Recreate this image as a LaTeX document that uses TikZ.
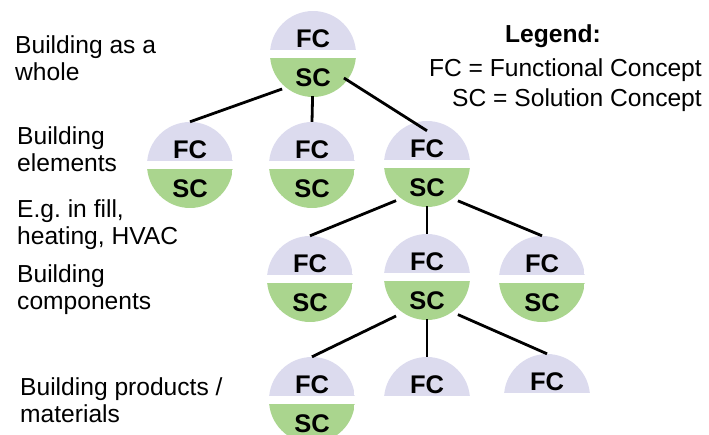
\documentclass[tikz,border=0pt]{standalone}
\usepackage{fontspec}
\setmainfont{Liberation Sans}
\usepackage{tikz}
\usetikzlibrary{calc,positioning}
\definecolor{fccol}{RGB}{220,219,238}
\definecolor{sccol}{RGB}{170,213,142}
\frenchspacing
\tikzset{
  concept/.style={circle, minimum size=86pt, inner sep=0pt, path picture={
    \fill[fccol] (path picture bounding box.north west) rectangle ([yshift=4pt]path picture bounding box.east);
    \fill[sccol] ([yshift=-4pt]path picture bounding box.west) rectangle (path picture bounding box.south east);}},
  fconly/.style={circle, minimum size=86pt, inner sep=0pt, path picture={
    \fill[fccol] (path picture bounding box.north west) rectangle ([yshift=4pt]path picture bounding box.east);}},
  lab/.style={font=\fontsize{25.5}{28}\selectfont\bfseries, inner xsep=13pt, inner ysep=9pt},
  lvl/.style={anchor=base west, align=left, inner sep=0pt, font=\fontsize{24.6}{27}\selectfont},
  legtext/.style={inner sep=0pt, font=\fontsize{24.6}{27}\selectfont},
  link/.style={line width=2.8pt}
}
\begin{document}
\begin{tikzpicture}[x=1pt,y=-1pt]
\clip (0,0) rectangle (709,435);
\foreach \n/\x/\y in {r/313/54, a1/190/165, a2/312/165, a3/427/164, b1/310/279, b2/427/277, b3/542/279, c1/312/400}{
  \node[concept] (\n) at (\x,\y) {};
  \node[lab] (\n-f) at ([yshift=15pt]\n.center) {FC};
  \node[lab] (\n-s) at ([yshift=-24pt]\n.center) {SC};
}
\foreach \n/\x/\y in {c2/427/400, c3/547/397}{
  \node[fconly] (\n) at (\x,\y) {};
  \node[lab] (\n-f) at ([yshift=15pt]\n.center) {FC};
}
\draw[link] (r-s) -- (a1.north);
\draw[link] (r-s) -- (a2.north);
\draw[link] (r-s.east) -- (a3-f.north);
\draw[link] (a3-s) -- (b1.north);
\draw[link] (a3-s) -- (b2.north);
\draw[link] (a3-s) -- (b3.north);
\draw[link] (b2-s) -- (c1.north);
\draw[link] (b2-s) -- (c2.north);
\draw[link] (b2-s) -- (c3.north);
\node[lvl] (whole) at (15,81) {Building as a\\whole};
\node[lvl] (elements) at (17,172) {Building\\elements};
\node[lvl] (example) at (17,245) {E.g. in fill,\\heating, HVAC};
\node[lvl] (components) at (17,310) {Building\\components};
\node[lvl] (products) at (20,422) {Building products /\\materials};
\node[legtext, anchor=base, font=\fontsize{24.6}{27}\selectfont\bfseries] (legend) at (553,43) {Legend:};
\node[legtext, anchor=base east] (leg-fc) at (702,77) {FC = Functional Concept};
\node[legtext, anchor=base east] (leg-sc) at (702,107) {SC = Solution Concept};
\end{tikzpicture}
\end{document}
